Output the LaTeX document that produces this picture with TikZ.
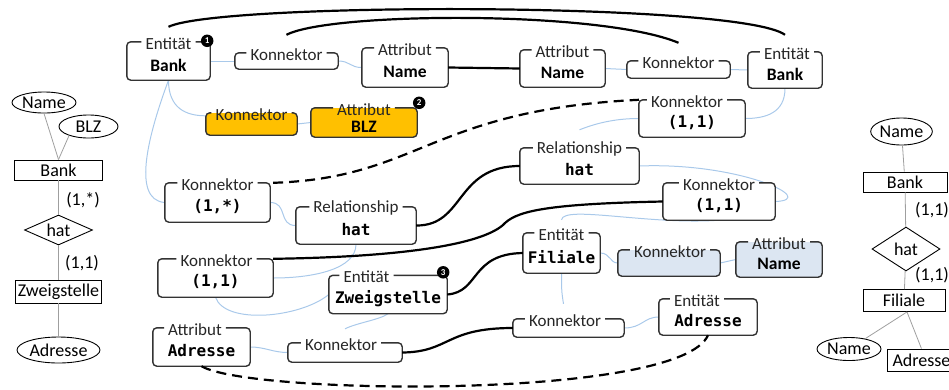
\documentclass[tikz,border=0pt]{standalone}
\usepackage{fontspec}
\setmainfont{Carlito}
\newfontfamily\monofam{DejaVu Sans Mono}
\usetikzlibrary{shapes.geometric,calc}
\pgfdeclarelayer{bg}
\pgfsetlayers{bg,main}
\definecolor{lblue}{HTML}{A9C9EA}
\definecolor{gold}{HTML}{FFC000}
\definecolor{pale}{HTML}{DCE6F2}
\definecolor{edgec}{HTML}{333333}
\newcommand\SB[1]{{\fontsize{17.5}{18}\selectfont\bfseries #1}}
\newcommand\MB[1]{{\fontsize{16}{17}\selectfont\monofam\bfseries #1}}
\tikzset{
  boxfill/.style={rectangle, rounded corners=4pt, inner sep=0pt, draw=none, fill=white},
  etitle/.style={inner xsep=4pt, inner ysep=0pt, font=\fontsize{17}{17}\selectfont, text=black!85},
  boxline/.style={draw=edgec, line width=1.4pt, rounded corners=4pt},
  blk/.style={draw=black, line width=2.2pt},
  dsh/.style={blk, dash pattern=on 10pt off 6pt},
  lb/.style={draw=lblue, line width=1pt},
  badge/.style={circle, fill=black, text=white, inner sep=0pt, minimum size=12.5pt, font=\fontsize{9}{9}\selectfont\bfseries},
  ell/.style={ellipse, draw=black, line width=0.9pt, inner sep=0pt, font=\fontsize{18}{18}\selectfont},
  ment/.style={rectangle, draw=black, line width=0.9pt, inner sep=0pt, font=\fontsize{18}{18}\selectfont},
  mdia/.style={diamond, aspect=2.2, draw=black, line width=0.9pt, inner sep=0pt, font=\fontsize{18}{18}\selectfont},
  mlab/.style={inner sep=0pt, font=\fontsize{18}{18}\selectfont},
  gl/.style={draw=gray!75, line width=0.8pt}
}
\newcommand\ebx[8]{%
  \node[boxfill, minimum width=#3, minimum height=#4, #8] (#1) at (#2) {};
  \node[etitle, xshift=#5] (#1t) at ([yshift=-1.5pt]#1.north) {#6};
  \draw[boxline] (#1t.east |- #1.north) -- (#1.north east) -- (#1.south east) -- (#1.south west) -- (#1.north west) -- (#1t.west |- #1.north);
  \node[inner sep=0pt] (#1b) at ([yshift=-4pt]#1.center) {#7};
}
\begin{document}
\begin{tikzpicture}[x=1pt, y=-1pt]
\useasboundingbox (0,0) rectangle (949,389);
\clip (0,0) rectangle (949,389);

% ---------- main boxes ----------
\ebx{bankL}{168.5,61}{83}{38}{0pt}{Entität}{\SB{Bank}}{}
\ebx{kon1}{286.5,61}{103}{16}{0pt}{Konnektor}{}{}
\ebx{nameA}{405,67.5}{86}{39}{0pt}{Attribut}{\SB{Name}}{}
\ebx{nameB}{562.5,68.5}{85}{37}{0pt}{Attribut}{\SB{Name}}{}
\ebx{kon2}{678.5,69.5}{103}{17}{0pt}{Konnektor}{}{}
\ebx{bankR}{785,70}{74}{36}{2pt}{Entität}{\SB{Bank}}{}
\ebx{konA}{692,118.5}{106}{37}{-5pt}{Konnektor}{\MB{(1,1)}}{}
\ebx{konY}{251.5,124}{91}{22}{0pt}{Konnektor}{}{fill=gold}
\ebx{blz}{364,122.5}{106}{29}{0pt}{Attribut}{\SB{BLZ}}{fill=gold}
\ebx{konS}{217.5,202.5}{105}{39}{0pt}{Konnektor}{\MB{(1,*)}}{}
\ebx{relL}{356,225.5}{120}{37}{0pt}{Relationship}{\MB{hat}}{}
\ebx{relR}{579.5,166}{119}{36}{0pt}{Relationship}{\MB{hat}}{}
\ebx{konB}{719,201.5}{112}{37}{0pt}{Konnektor}{\MB{(1,1)}}{}
\ebx{konC}{215.5,278}{115}{38}{1pt}{Konnektor}{\MB{(1,1)}}{}
\ebx{zweig}{388,294.5}{118}{38}{-21.5pt}{Entität}{\MB{Zweigstelle}}{}
\ebx{fil}{561.5,253}{77}{40}{0pt}{Entität}{\MB{Filiale}}{}
\ebx{konP}{669,263}{102}{26}{1pt}{Konnektor}{}{fill=pale}
\ebx{nameC}{779,259.5}{86}{35}{0pt}{Attribut}{\SB{Name}}{fill=pale}
\ebx{adrA}{201.5,347}{97}{38}{-6.5pt}{Attribut}{\MB{Adresse}}{}
\ebx{konD}{345,352.5}{114}{19}{-4pt}{Konnektor}{}{}
\ebx{konE}{568.5,328}{111}{18}{-3.5pt}{Konnektor}{}{}
\ebx{adrE}{708,317}{98}{36}{-11pt}{Entität}{\MB{Adresse}}{}

% badges
\node[badge] (bd1) at ([xshift=-3pt,yshift=1pt]bankL.north east) {1};
\node[badge] (bd2) at ([xshift=2pt,yshift=5pt]blz.north east) {2};
\node[badge] (bd3) at ([xshift=-4pt,yshift=3pt]zweig.north east) {3};

% ---------- connectors ----------
\begin{pgfonlayer}{bg}
% light blue
\draw[lb] (bankL.east) -- (kon1.west);
\draw[lb] (kon1.east) .. controls +(12,0) and +(-12,0) .. (nameA.west);
\draw[lb] (nameB.east) -- (kon2.west);
\draw[lb] (kon2.east) -- (bankR.west);
\draw[lb] (bankR.south) .. controls +(0,25) and +(20,0) .. (konA.east);
\draw[lb] (konA.west) .. controls +(-25,0) and +(15,-6) .. ([yshift=18pt]relR.north);
\draw[lb] (relR.east) .. controls (740,162) and (820,200) .. (konB.east);
\draw[lb] (bankL.south) .. controls +(0,28) and +(-20,0) .. ([yshift=-3pt]konY.north west);
\draw[lb] (konY.east) -- (blz.west);
\draw[lb] (bankL.south) .. controls (150,130) and (130,200) .. (konS.west);
\draw[lb] (konS.east) .. controls +(18,0) and +(-18,0) .. (relL.west);
\draw[lb] (relL.south) .. controls +(0,25) and +(40,0) .. (konC.east);
\draw[lb] (konC.south) .. controls (225,325) and (300,318) .. (zweig.west);
\draw[lb] (zweig.south) .. controls +(-8,6) and +(12,-6) .. ([yshift=14pt]konD.north);
\draw[lb] (adrA.east) .. controls +(15,0) and +(-15,0) .. (konD.west);
\draw[lb] (fil.south) .. controls +(0,15) and +(-2,-12) .. ([xshift=-5pt,yshift=15pt]konE.north);
\draw[lb] (konE.east) .. controls +(18,0) and +(-15,0) .. (adrE.west);
\draw[lb] (fil.east) .. controls +(10,0) and +(-8,0) .. (konP.west);
\draw[lb] (konP.east) -- (nameC.west);
\draw[lb] ([yshift=13pt]fil.north) .. controls +(2,-15) and +(-70,5) .. (konB.south);
\end{pgfonlayer}

% black
\draw[blk] ([yshift=15pt]bankL.north) .. controls (220,2) and (740,2) .. ([yshift=17pt]bankR.north);
\draw[blk] ([yshift=18pt]kon1.north) .. controls (330,12) and (600,10) .. ([yshift=18pt]kon2.north);
\draw[blk] (nameA.east) -- (nameB.west);
\draw[dsh] ([xshift=3pt]konS.north east) .. controls (420,178) and (430,110) .. (konA.north west);
\draw[blk] (relL.east) .. controls (465,226) and (455,166) .. (relR.west);
\draw[blk] (konC.north east) .. controls (400,257) and (480,245) .. (503,225) .. controls (515,212) and (540,204) .. (konB.west);
\draw[blk] (zweig.east) .. controls (480,292) and (470,254) .. (fil.west);
\draw[blk] (konD.east) .. controls (450,352) and (445,328) .. (konE.west);
\draw[dsh] (adrA.south) .. controls (250,395) and (680,400) .. (adrE.south);

% ---------- left mini ER ----------
\node[ell, minimum width=64, minimum height=21] (mName) at (44,102.5) {Name};
\node[ell, minimum width=59, minimum height=23] (mBLZ) at (88.5,126.5) {BLZ};
\node[ment, minimum width=88, minimum height=20] (mBank) at (58.5,170) {Bank};
\node[mdia, minimum width=68, minimum height=30] (mHat) at (58.5,230) {hat};
\node[ment, minimum width=86, minimum height=23] (mZw) at (58.5,291.5) {Zweigstelle};
\node[ell, minimum width=83, minimum height=26] (mAdr) at (58.5,350) {Adresse};
\node[mlab] (mL1) at (83,200) {(1,*)};
\node[mlab] (mL2) at (82,263) {(1,1)};
\draw[gl] (mName.south) -- (mBank.north);
\draw[gl] (mBLZ.205) -- (mBank.north);
\draw[gl] (mBank) -- (mHat);
\draw[gl] (mHat) -- (mZw);
\draw[gl] (mZw) -- (mAdr);

% ---------- right mini ER ----------
\node[ell, minimum width=61, minimum height=27] (rName) at (901.5,131.5) {Name};
\node[ment, minimum width=84, minimum height=20] (rBank) at (905,182) {Bank};
\node[mlab] (rL1) at (932,210) {(1,1)};
\node[mdia, minimum width=68, minimum height=44] (rHat) at (906,249) {hat};
\node[mlab] (rL2) at (932,275) {(1,1)};
\node[ment, minimum width=82, minimum height=22] (rFil) at (904,300.5) {Filiale};
\node[ell, minimum width=64, minimum height=23] (rName2) at (849,349) {Name};
\node[ment, minimum width=68, minimum height=22, anchor=west] (rAdr) at (887,360) {Adresse};
\coordinate (rFs) at ([xshift=3pt]rFil.south);
\draw[gl] (rName) -- (rBank);
\draw[gl] (rBank) -- (rHat);
\draw[gl] (rHat) -- (rFil);
\draw[gl] (rFs) -- (rName2);
\draw[gl] (rFs) -- (rAdr.north);
\end{tikzpicture}
\end{document}
